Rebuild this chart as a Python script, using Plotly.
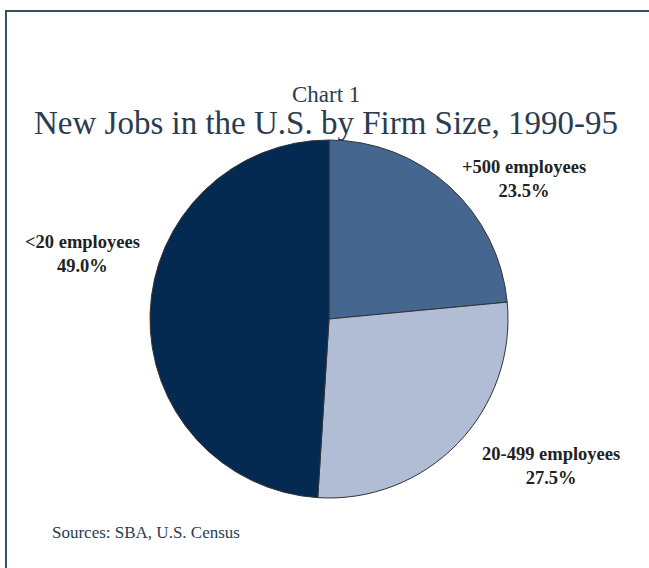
import plotly.graph_objects as go

categories = ["+500 employees", "20-499 employees", "<20 employees"]
shares = [23.5, 27.5, 49.0]
colors = ["#44668f", "#b1bdd5", "#042a52"]

W, H = 649, 568
cx, cy, r = 329, 319, 179

fig = go.Figure(go.Pie(
    labels=categories, values=shares, sort=False, direction="clockwise", rotation=0,
    marker=dict(colors=colors, line=dict(color="#333333", width=1)),
    textinfo="none", hoverinfo="label+percent", showlegend=False,
    domain=dict(x=[(cx - r) / W, (cx + r) / W], y=[1 - (cy + r) / H, 1 - (cy - r) / H]),
))

label_pos = {
    "+500 employees": (524, 179),
    "20-499 employees": (551, 466),
    "<20 employees": (82, 254),
}
serif = "Liberation Serif"
annotations = []
for cat, val in zip(categories, shares):
    x, y = label_pos[cat]
    annotations.append(dict(
        x=x / W, y=1 - y / H, xref="paper", yref="paper", showarrow=False,
        xanchor="center", yanchor="middle",
        text=f"<b>{cat}<br>{val:.1f}%</b>", align="center",
        font=dict(family=serif, size=18.5, color="#222222"),
    ))
annotations += [
    dict(x=326 / W, y=1 - 95 / H, xref="paper", yref="paper", showarrow=False,
         xanchor="center", yanchor="middle",
         text="Chart 1", font=dict(family=serif, size=23, color="#2b3c50")),
    dict(x=326 / W, y=1 - 123 / H, xref="paper", yref="paper", showarrow=False,
         xanchor="center", yanchor="middle",
         text="New Jobs in the U.S. by Firm Size, 1990-95",
         font=dict(family=serif, size=33, color="#2b3c50")),
    dict(x=50 / W, y=1 - 532 / H, xref="paper", yref="paper", showarrow=False,
         xanchor="left", yanchor="middle", text="Sources: SBA, U.S. Census",
         font=dict(family=serif, size=17, color="#2b3c50")),
]

fig.update_layout(
    width=W, height=H, margin=dict(l=0, r=0, t=0, b=0),
    paper_bgcolor="white", plot_bgcolor="white",
    annotations=annotations,
    shapes=[
        dict(type="line", xref="paper", yref="paper", x0=5 / W, x1=1, y0=1 - 11 / H, y1=1 - 11 / H,
             line=dict(color="#3a4f66", width=2)),
        dict(type="line", xref="paper", yref="paper", x0=6 / W, x1=6 / W, y0=0, y1=1 - 10 / H,
             line=dict(color="#3a4f66", width=2)),
    ],
)

fig.write_html("out.html", config={"displayModeBar": False},
               post_script="document.body.style.margin='0';")
